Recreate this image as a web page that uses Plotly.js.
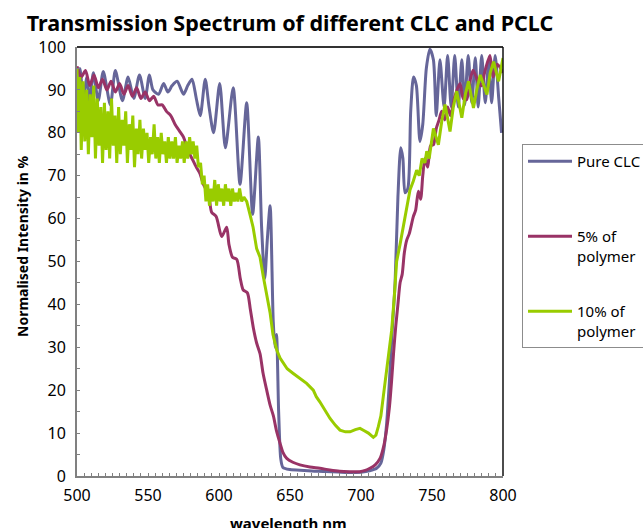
<!DOCTYPE html>
<html>
<head>
<meta charset="utf-8">
<script src="https://cdn.plot.ly/plotly-3.0.1.min.js"></script>
<style>html,body{margin:0;padding:0;background:#fff;}#chart{width:643px;height:528px;}</style>
</head>
<body>
<div id="chart"></div>
<script>
// ---- data ----
var seriesNames = ["Pure CLC<br> ", "5% of<br>polymer", "10% of<br>polymer"];
var xTickVals = [500, 550, 600, 650, 700, 750, 800];
var yTickVals = [0, 10, 20, 30, 40, 50, 60, 70, 80, 90, 100];

var wlPure = [500,502,504.5,507,509,511.5,515,518.5,523.5,527,532,536,540,544,548,551,553.5,557.5,561,564,567,570.5,575,578,581,584,586.8,590.3,593,596.2,600.5,604.5,610,614.8,619.5,623.7,627.7,630,632.2,634,636,638.2,639.5,640.5,642,643.5,645,650,660,670,680,690,700,706,711,714,716,718,720,722,724,726,728,729.5,731,733,735,737,739,741.5,743.5,746,748.5,751,753,755.6,758.5,761,763.5,766,768.5,771,773,775.5,778,780.5,782.5,785,787.5,790,792,794.5,797,799,800];
var pure   = [92,95,88,93,87,94,87.5,94.3,86.5,94.5,87.5,93,88,93.5,88,93.5,90,89,91.5,89.5,91,92,89,91,92.5,88,84,92.5,86,80,91.5,76.5,90.5,68,87,61,79,58,46,55,63,36,30,33,15,4,2,1.5,1.3,1.1,1.0,0.8,0.9,1.2,1.8,3,6,12,22,34,45,65,76.5,74,66,67,85,93,91,78,82,95,99.5,97,84,97,86,98,86,98,86,97,86.5,98,87,97.5,86,98,87,97,87,98,88,80];

var wl5  = [500,503,506,509,512,515,518,521,524,527,530,533,536,539,542,545,548,551,554,557,560,563,566,569,572,575,578,581,584,586.6,589,591.3,593,594.8,598,601.9,605.4,607,609.5,612.5,615,617,620,622,624.2,626.5,628.9,631,633.6,636,638.3,640.5,643,645,647.7,652,657,664,671,678,685,692,699,703,706.3,710,713.4,716,718,720,721.6,723,724.5,726,727.5,729,730.5,732.2,734,736.8,738.5,740.4,742,743.5,745,747,749,751,753,755,756.8,759,761,763,766,769.7,772,774.4,777,779,783,785,787,790.8,793,796,800];
var pct5 = [95.5,93,94.5,91,93.5,90.5,92.5,90,92,89.5,91.5,89,91,88.5,90.5,88,89.5,87.5,88.5,86.5,86.5,85,84,82,80.5,79,76,74,72,70.5,68,66.5,65,61.5,60.5,55.8,58,54,51,50.5,46,43.4,42.7,39,34.5,31,28.5,24,20,16.5,14,10.5,7.6,5.5,4.1,3.2,2.6,2.1,1.8,1.4,1.1,1.0,1.0,1.3,1.8,2.6,4.1,7,10.7,16,22.4,29,35,40,45,47,52,55,56.5,60.4,62,66.4,64.5,70,74,72,77,77.2,81,83,85,83,86,84,88.4,91.5,88,87.7,92.5,94.6,91.5,91,94,98,93,96,94];

var wl10  = [500,501,502,503,504.3,505.5,506.8,508,509.3,510.5,511.8,513,514.3,515.5,516.8,518,519.3,520.5,521.8,523,524.3,525.5,526.8,528,529.3,530.5,531.8,533,534.3,535.5,536.8,538,539.3,540.5,541.8,543,544.3,545.5,546.8,548,549.3,550.5,551.8,553,554.3,555.5,556.8,558,559.3,560.5,561.8,563,564.3,565.5,566.8,568,569.3,570.5,571.8,573,574.3,575.5,576.8,578,579.3,580.5,581.8,583,584.3,585.5,587,588.3,589.5,590.8,592,593.3,594.5,595.8,597,598.3,599.5,600.8,602,603.3,604.5,605.8,607,608.3,609.5,610.8,612,613.3,614.5,616,617.5,619.5,621.8,624,626.5,628.9,631.2,633.6,636,638,640.6,643,645.3,648,652.3,657,661.7,666.4,668.5,671,675,678.2,682,685.2,689,692.3,696,699.3,702,705.2,708.7,710.5,712.2,714,715.7,717.5,719.2,720.4,721.6,723.5,725.1,727.5,729.8,732,734.5,736.8,738,739.2,741,743,745,746.3,748,751,754.5,757,759.2,762.7,765,767.4,771,773.5,775.7,779.2,781.5,784,788.7,791,793.4,796.9,800];
var pct10 = [95,80,93,76,92,78,90,75,89,79,91,74,88,77,86,73,87,76,85,74,88,77,84,73,86,75,83,77,85,73,82,76,84,72,81,75,83,74,81,76,80,73,79,75,82,74,79,73,80,75,78,73,79,74,78,74,79,73,77,74,78,73,78,74,79,75,78,74,77,72,73,68,70,64,68,63,67,64,69,63,68,64,67,63,68,64,67,63,67,64,66,64,67,64,65,64,61,58,53,51,46.5,42.6,38,33,29.4,27.5,26.3,25,23.9,22.8,21.6,20,18.5,17.3,15,13.4,11.8,10.7,10.3,10.3,10.8,11.1,10.6,10,9.0,9.5,11.5,14,18.5,23,27.8,30,34,42,50,54,58,62,66.7,68.7,70,71.3,70,74,73,75.7,74,81,77.2,83,86.6,80.3,86,89.7,83.5,89,92,85.8,90,93.5,88.9,94,96.6,92,97.4];

var seriesColors = ["#666699", "#993366", "#99CC00"];

var FONT = "Noto Sans, Liberation Sans, sans-serif";

var xs = [wlPure, wl5, wl10];
var ys = [pure, pct5, pct10];
var traces = xs.map(function (x, i) {
  return {
    x: x, y: ys[i], type: "scatter", mode: "lines",
    name: seriesNames[i],
    legendgroup: "g" + i,
    line: {color: seriesColors[i], width: 3, shape: i === 2 ? "linear" : "spline", smoothing: 0.7},
    hoverinfo: "skip"
  };
});

var layout = {
  width: 643, height: 528,
  margin: {l: 77, r: 140, t: 47, b: 52, pad: 0, autoexpand: false},
  paper_bgcolor: "#ffffff", plot_bgcolor: "#ffffff",
  font: {family: FONT, size: 16, color: "#000"},
  title: {
    text: "<b>Transmission Spectrum of different CLC and PCLC</b>",
    font: {family: FONT, size: 21.5, color: "#000"},
    x: 0.5, xref: "paper", xanchor: "center",
    y: 1 - 23 / 528, yref: "container", yanchor: "middle"
  },
  xaxis: {
    range: [500, 800], tickvals: xTickVals, ticks: "inside", ticklen: 3,
    tickcolor: "#808080", tickwidth: 1,
    minor: {dtick: 5, tick0: 500, ticks: "inside", ticklen: 3, tickcolor: "#808080", tickwidth: 1},
    showgrid: false, zeroline: false,
    showline: true, linecolor: "#808080", linewidth: 2,
    tickfont: {family: FONT, size: 16, color: "#000"},
    ticklabelstandoff: 4,
    automargin: false,
    fixedrange: true
  },
  yaxis: {
    range: [0, 100], tickvals: yTickVals, ticks: "",
    minor: {dtick: 5, tick0: 0, ticks: "inside", ticklen: 3, tickcolor: "#808080", tickwidth: 1},
    showgrid: false, zeroline: false,
    showline: true, linecolor: "#808080", linewidth: 2,
    tickfont: {family: FONT, size: 16, color: "#000"},
    ticklabelstandoff: 6,
    automargin: false,
    fixedrange: true
  },
  showlegend: true,
  legend: {
    x: (522 - 77) / 426, xanchor: "left",
    y: (476 - 144) / 429, yanchor: "top",
    bordercolor: "#8c8c8c", borderwidth: 1, bgcolor: "#ffffff",
    font: {family: FONT, size: 15, color: "#000"},
    traceorder: "grouped", tracegroupgap: 33, valign: "top",
    itemwidth: 44
  },
  shapes: [
    {type: "line", xref: "paper", yref: "paper", x0: 0, x1: 1, y0: 1, y1: 1, line: {color: "#333333", width: 2}},
    {type: "line", xref: "paper", yref: "paper", x0: 1, x1: 1, y0: 0, y1: 1, line: {color: "#111111", width: 1.5}}
  ],
  annotations: [
    {text: "<b>Normalised Intensity in %</b>", xref: "paper", yref: "paper",
     x: (23 - 77) / 426, y: (476 - 246) / 429, xanchor: "center", yanchor: "middle",
     textangle: -90, showarrow: false, font: {family: FONT, size: 14, color: "#000"}},
    {text: "<b>wavelength nm</b>", xref: "paper", yref: "paper",
     x: (288 - 77) / 426, y: (476 - 511) / 429, xanchor: "center", yanchor: "top",
     showarrow: false, font: {family: FONT, size: 15, color: "#000"}}
  ]
};

Plotly.newPlot("chart", traces, layout, {staticPlot: true, displayModeBar: false});
</script>
</body>
</html>
